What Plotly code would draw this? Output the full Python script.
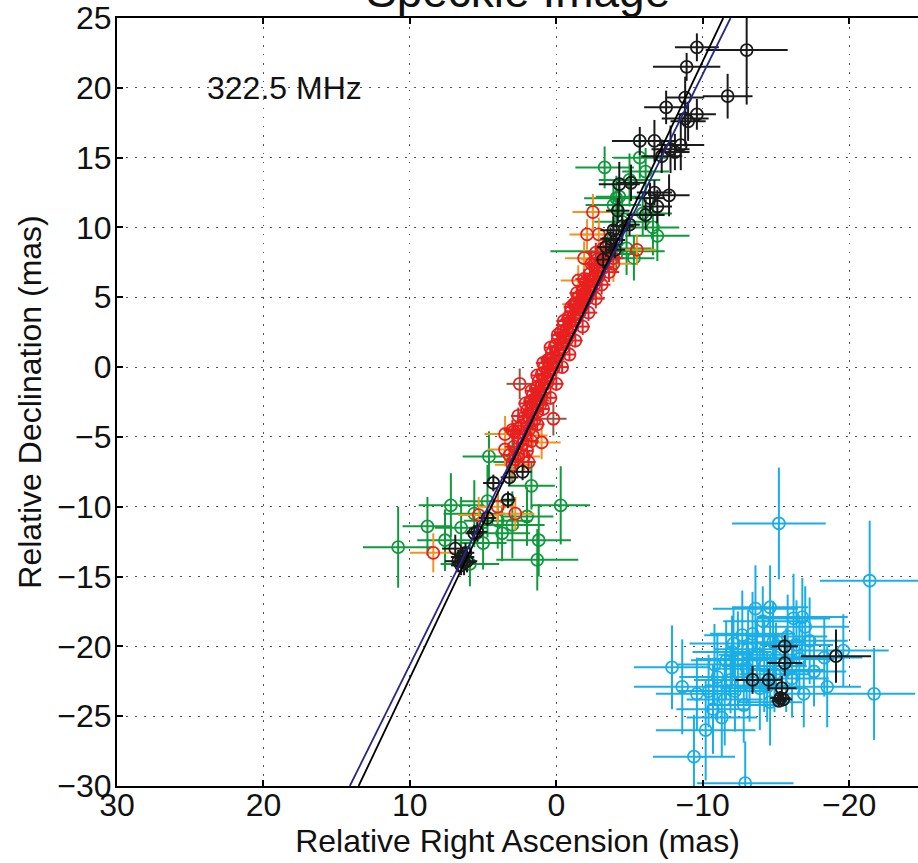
import plotly.graph_objects as go

# ---------------- data ----------------
# black series: along the jet + cluster in the south-east
black_x = [-9.6, -13.0, -8.9, -11.7, -8.8, -7.5, -9.6, -8.8, -9.0, -5.7, -6.7, -8.5, -7.8, -7.2, -8.1,
           -4.3, -5.1, -6.7, -7.7, -6.4, -6.9, -6.1, -4.2, -3.9, -4.5, -5.0, -3.7, -4.1, -3.4, -4.0, -3.2,
           2.3, 3.2, 4.3, 3.3, 4.7, 5.4, 5.6, 6.9, 6.4, 6.7, 6.1, 6.2, 6.5, 6.3,
           -15.6, -15.6, -13.4, -14.5, -15.4, -15.3, -15.5, -15.2, -19.1]
black_y = [22.9, 22.7, 21.5, 19.4, 19.3, 18.6, 18.1, 17.8, 17.6, 16.2, 16.2, 15.9, 15.6, 15.1, 15.4,
           13.1, 13.2, 12.5, 12.3, 12.1, 11.5, 10.9, 11.2, 9.8, 10.1, 10.2, 9.2, 9.1, 8.6, 8.4, 7.7,
           -7.5, -7.9, -8.3, -9.5, -10.8, -11.8, -11.9, -13.0, -13.6, -13.9, -13.9, -13.3, -14.2, -14.0,
           -20.0, -21.2, -22.4, -22.4, -23.0, -23.7, -23.8, -23.9, -20.7]
black_ex = [1.5, 2.8, 2.3, 1.7, 1.3, 1.5, 1.3, 1.6, 1.2, 1.9, 1.5, 1.6, 1.3, 1.4, 1.0,
            1.4, 1.0, 1.2, 1.4, 1.0, 1.0, 1.3, 0.8, 0.9, 0.8, 0.7, 0.7, 0.6, 0.6, 0.7, 0.5,
            0.6, 0.6, 0.7, 0.5, 0.6, 0.7, 0.6, 0.9, 0.8, 0.9, 0.7, 0.6, 0.7, 0.8,
            0.9, 1.2, 1.2, 0.9, 1.0, 0.7, 0.6, 0.5, 2.4]
black_ey = [1.0, 3.9, 1.0, 1.6, 1.5, 1.2, 1.1, 2.0, 1.4, 1.0, 1.5, 1.8, 1.7, 1.2, 1.3,
            1.6, 1.3, 0.9, 1.5, 1.1, 1.2, 1.1, 0.9, 1.0, 0.9, 0.8, 0.8, 0.7, 0.7, 0.6, 0.6,
            0.6, 0.6, 0.6, 0.6, 0.6, 0.7, 0.6, 1.0, 0.7, 0.8, 0.8, 0.7, 0.7, 0.9,
            0.8, 0.9, 1.0, 0.8, 0.9, 0.5, 0.5, 0.4, 1.9]

# cyan series: south-east cluster
cyan_x = [-15.2, -21.4, -14.6, -16.8, -16.2, -13.4, -12.1, -7.9, -8.6, -9.6, -10.7, -10.2, -9.4, -12.9,
          -18.5, -21.7, -19.6, -11.0, -11.6, -12.4, -13.0, -13.7, -14.2, -14.8, -15.8, -16.6, -17.3,
          -17.6, -16.1, -13.9, -12.2, -11.5, -10.4, -12.8, -14.6, -11.9, -13.2, -15.0, -12.7, -11.3,
          -16.9, -18.3, -10.8, -14.1, -13.6, -17.0, -14.9, -15.7, -13.1, -12.0, -16.4, -14.4]
cyan_y = [-11.2, -15.3, -17.2, -17.9, -18.0, -19.1, -19.8, -21.5, -22.9, -23.4, -24.5, -26.0, -27.9, -29.8,
          -22.9, -23.4, -20.3, -22.2, -21.0, -20.9, -21.6, -20.6, -21.4, -19.7, -19.3, -20.9, -19.6,
          -21.8, -22.3, -23.0, -23.2, -23.8, -23.2, -24.2, -24.0, -22.4, -22.8, -20.8, -19.2, -25.1,
          -23.4, -20.8, -21.3, -18.2, -17.3, -18.6, -22.0, -21.7, -20.2, -20.4, -19.9, -22.9]
cyan_ex = [3.2, 3.4, 2.6, 3.1, 2.5, 2.9, 3.0, 2.6, 3.3, 2.8, 2.5, 3.4, 2.8, 3.3,
           2.3, 2.8, 3.1, 2.6, 2.4, 2.8, 2.2, 2.6, 2.9, 2.2, 2.7, 2.4, 2.6,
           2.2, 2.5, 2.7, 2.3, 2.6, 2.1, 2.4, 2.2, 2.5, 2.8, 2.3, 2.6, 2.4,
           2.0, 2.6, 2.5, 2.7, 2.9, 3.0, 2.4, 2.6, 2.3, 2.7, 2.5, 2.2]
cyan_ey = [4.0, 4.3, 3.0, 2.8, 3.2, 3.0, 2.5, 3.0, 3.4, 2.6, 3.2, 3.6, 3.0, 3.0,
           2.9, 3.3, 2.6, 3.1, 2.8, 3.4, 2.6, 2.4, 3.3, 2.9, 3.0, 2.6, 3.1,
           2.5, 2.8, 3.0, 2.9, 3.3, 2.6, 2.7, 3.1, 2.4, 2.6, 2.5, 3.2, 2.8,
           2.4, 2.8, 2.9, 2.5, 3.1, 2.9, 2.7, 3.0, 2.8, 2.6, 3.2, 2.5]

# green series
green_x = [-5.7, -6.1, -4.1, -3.9, -4.3, -4.5, -4.8, -5.3, -3.5, -4.1, -5.9, -5.0, -3.3, -6.6, -6.9,
           10.8, 8.8, 7.2, 7.6, 4.6, 1.7, -0.3, 3.7, 3.0, 2.0, 1.2, 1.3, 5.6, 4.7, 4.0, 5.9,
           6.5, 5.0, 3.0]
green_y = [15.0, 14.0, 12.1, 11.6, 12.2, 10.4, 8.5, 7.8, 8.3, 8.1, 11.0, 13.4, 14.3, 10.0, 9.4,
           -12.9, -11.4, -9.9, -12.4, -6.4, -8.5, -9.9, -11.9, -11.3, -10.7, -12.4, -13.8, -10.5, -9.6, -11.0, -14.1,
           -11.5, -12.6, -6.8]
green_ex = [1.8, 1.6, 2.2, 1.9, 1.6, 1.9, 1.7, 1.4, 3.9, 1.5, 2.0, 2.1, 2.0, 1.8, 2.2,
            2.4, 1.7, 2.2, 1.9, 1.8, 1.6, 2.0, 1.9, 2.2, 1.8, 2.2, 2.8, 2.1, 1.9, 2.3, 2.0,
            1.8, 1.6, 1.3]
green_ey = [1.5, 1.7, 1.6, 1.8, 1.4, 1.7, 1.9, 1.6, 1.5, 1.3, 1.6, 1.9, 1.5, 2.0, 1.8,
            2.9, 2.1, 2.3, 2.2, 1.8, 1.7, 2.8, 2.0, 2.4, 2.1, 2.6, 2.2, 2.4, 2.6, 2.0, 1.6,
            2.2, 1.9, 1.5]

# orange-bar series (red circles)
orange_x = [-2.5, -2.1, -2.9, -1.9, -2.8, -1.5, -2.4, -5.5, -3.9, -2.0, -1.2,
            3.5, 3.5, 2.2, 1.0, 2.8, 5.3, 4.0, 8.4, 2.6, 1.6, 3.0]
orange_y = [11.1, 9.5, 9.5, 7.8, 7.7, 6.2, 6.2, 8.4, 7.4, 5.0, 4.5,
            -4.8, -5.9, -6.4, -5.4, -10.5, -10.6, -10.0, -13.3, -4.4, -4.9, -7.0]
orange_ex = [1.4, 1.2, 1.1, 1.3, 1.1, 1.2, 1.0, 1.3, 1.2, 1.0, 0.8,
             1.4, 1.2, 1.1, 1.3, 1.3, 1.4, 1.2, 1.6, 1.1, 1.0, 1.2]
orange_ey = [1.3, 1.1, 1.2, 1.2, 1.0, 1.1, 1.2, 1.1, 1.3, 1.0, 0.9,
             1.3, 1.2, 1.0, 1.2, 1.2, 1.3, 1.2, 1.4, 1.0, 1.1, 1.1]

# brown-bar series (red circles)
brown_x = [2.5, 0.2, 0.4, 1.3]
brown_y = [-1.2, -3.7, 0.6, -2.4]
brown_ex = [0.9, 0.9, 0.7, 0.8]
brown_ey = [1.1, 1.2, 0.9, 0.8]

# red series: dense band along the jet
red_x = [2.6, 2.0, 2.9, 2.3, 1.7, 2.6, 2.1, 2.9, 1.8, 2.4, 2.0, 1.5, 2.2, 1.7, 1.3, 2.0, 1.6, 1.1,
         1.8, 1.4, 1.0, 1.6, 1.2, 0.8, 1.4, 1.0, 0.6, 1.2, 0.8, 0.4, 1.0, 0.6, 0.2, 0.8, 0.4, 0.0,
         0.6, 0.2, -0.2, 0.3, -0.1, -0.5, 0.1, -0.3, -0.7, -0.1, -0.5, -0.9, -0.3, -0.7, -1.1, -0.5,
         -0.9, -1.3, -0.8, -1.2, -1.6, -1.0, -1.4, -1.8, -1.3, -1.7, -2.1, -1.5, -1.9, -2.3, -1.8,
         -2.2, -2.6, -2.0, -2.5, -2.9, -2.3, -2.8, -3.2, -2.6, -3.1, -3.5,
         3.0, 1.3, 2.6, 0.9, 2.1, 0.4, 1.7, 0.0, 1.3, -0.4, 0.9, -0.9, 0.4, -1.3, -0.1, -1.8,
         -0.5, -2.2, -1.0, -2.7, -1.4, -3.1, -1.9, -3.6, -2.4, -3.9, -3.2, -2.7, 2.8, 1.9, 3.2]
red_y = [-6.2, -6.0, -5.7, -5.5, -5.3, -5.1, -4.8, -4.6, -4.4, -4.2, -4.0, -3.8, -3.6, -3.4, -3.2, -3.1, -2.9, -2.7,
         -2.5, -2.3, -2.1, -2.0, -1.8, -1.6, -1.5, -1.3, -1.1, -1.0, -0.8, -0.6, -0.5, -0.3, -0.1, 0.0, 0.2, 0.4,
         0.5, 0.7, 0.9, 1.0, 1.2, 1.4, 1.5, 1.7, 1.9, 2.0, 2.2, 2.4, 2.5, 2.7, 2.9, 3.0,
         3.2, 3.4, 3.5, 3.7, 3.9, 4.0, 4.2, 4.4, 4.5, 4.7, 4.9, 5.0, 5.2, 5.4, 5.5,
         5.7, 5.9, 6.1, 6.3, 6.5, 6.7, 6.9, 7.1, 7.3, 7.6, 7.9,
         -4.5, -4.1, -3.5, -3.0, -2.6, -2.2, -1.7, -1.2, -0.6, 0.0, 0.3, 0.9, 1.4, 1.9, 2.3, 2.9,
         3.3, 3.9, 4.3, 4.9, 5.3, 5.9, 6.3, 6.8, 7.4, 7.8, 8.5, 8.2, -6.6, -6.8, -6.3]
red_ex = [0.5, 0.4, 0.6, 0.4, 0.5, 0.4, 0.5, 0.6, 0.4, 0.5, 0.4, 0.5, 0.4, 0.5, 0.4, 0.3, 0.4, 0.5,
          0.4, 0.3, 0.4, 0.3, 0.4, 0.3, 0.4, 0.3, 0.4, 0.3, 0.3, 0.4, 0.3, 0.3, 0.4, 0.3, 0.3, 0.4,
          0.3, 0.3, 0.4, 0.3, 0.3, 0.4, 0.3, 0.4, 0.3, 0.3, 0.4, 0.3, 0.4, 0.3, 0.4, 0.3,
          0.4, 0.5, 0.4, 0.4, 0.5, 0.4, 0.5, 0.4, 0.5, 0.4, 0.5, 0.4, 0.5, 0.6, 0.4,
          0.5, 0.6, 0.5, 0.6, 0.5, 0.6, 0.5, 0.6, 0.5, 0.6, 0.7,
          0.6, 0.5, 0.5, 0.4, 0.5, 0.4, 0.4, 0.5, 0.4, 0.4, 0.5, 0.4, 0.4, 0.5, 0.4, 0.5,
          0.5, 0.6, 0.5, 0.6, 0.5, 0.6, 0.6, 0.7, 0.6, 0.7, 0.6, 0.6, 0.6, 0.5, 0.6]
red_ey = [0.6, 0.5, 0.6, 0.5, 0.5, 0.6, 0.5, 0.6, 0.5, 0.5, 0.4, 0.5, 0.4, 0.5, 0.4, 0.4, 0.5, 0.4,
          0.4, 0.4, 0.5, 0.4, 0.4, 0.3, 0.4, 0.3, 0.4, 0.3, 0.4, 0.3, 0.4, 0.3, 0.3, 0.4, 0.3, 0.4,
          0.3, 0.4, 0.3, 0.4, 0.3, 0.4, 0.4, 0.3, 0.4, 0.4, 0.5, 0.4, 0.4, 0.5, 0.4, 0.5,
          0.5, 0.4, 0.5, 0.5, 0.6, 0.5, 0.5, 0.6, 0.5, 0.6, 0.5, 0.6, 0.6, 0.5, 0.6,
          0.6, 0.7, 0.6, 0.6, 0.7, 0.6, 0.7, 0.7, 0.6, 0.7, 0.8,
          0.7, 0.6, 0.6, 0.5, 0.5, 0.5, 0.4, 0.5, 0.4, 0.4, 0.5, 0.4, 0.5, 0.5, 0.5, 0.6,
          0.6, 0.6, 0.6, 0.7, 0.6, 0.7, 0.7, 0.7, 0.8, 0.7, 0.8, 0.7, 0.7, 0.6, 0.7]

# fitted jet lines (end points)
fit_black_x = [13.5, -11.4]
fit_black_y = [-30, 25]
fit_blue_x = [14.1, -11.9]
fit_blue_y = [-30, 25]

x_ticks = [30, 20, 10, 0, -10, -20]
y_ticks = [25, 20, 15, 10, 5, 0, -5, -10, -15, -20, -25, -30]
x_range = [30, -24.7]
y_range = [-30, 25]

title_text = "Speckle Image"
freq_label = "322.5 MHz"
freq_pos = (24.0, 20.0)

# ---------------- styling ----------------
FONT = "Liberation Sans, Arial, Helvetica, sans-serif"
FS = 32
C_BLACK = "#1a1a1a"
C_CYAN = "#1aaee6"
C_GREEN = "#0f9a3c"
C_ORANGE = "#f5921e"
C_RED = "#e8201f"
C_BROWN = "#8e5a45"
C_BLUE = "#26268c"


def err_trace(x, y, ex, ey, mcolor, ecolor, size=12, lw=1.8):
    return go.Scatter(
        x=x, y=y, mode="markers",
        marker=dict(symbol="circle-open", size=size, color=mcolor, line=dict(width=lw, color=mcolor)),
        error_x=dict(type="data", array=ex, symmetric=True, width=0, thickness=2, color=ecolor),
        error_y=dict(type="data", array=ey, symmetric=True, width=0, thickness=2, color=ecolor),
        showlegend=False, hoverinfo="skip", cliponaxis=True,
    )


fig = go.Figure()
fig.add_trace(err_trace(cyan_x, cyan_y, cyan_ex, cyan_ey, C_CYAN, C_CYAN))
fig.add_trace(err_trace(green_x, green_y, green_ex, green_ey, C_GREEN, C_GREEN))
fig.add_trace(err_trace(orange_x, orange_y, orange_ex, orange_ey, C_RED, C_ORANGE))
fig.add_trace(err_trace(brown_x, brown_y, brown_ex, brown_ey, C_RED, C_BROWN))
fig.add_trace(err_trace(red_x, red_y, red_ex, red_ey, C_RED, C_RED))
fig.add_trace(err_trace(black_x, black_y, black_ex, black_ey, C_BLACK, C_BLACK))
fig.add_trace(go.Scatter(x=fit_blue_x, y=fit_blue_y, mode="lines",
                         line=dict(color=C_BLUE, width=1.8), showlegend=False, hoverinfo="skip"))
fig.add_trace(go.Scatter(x=fit_black_x, y=fit_black_y, mode="lines",
                         line=dict(color="#000000", width=1.8), showlegend=False, hoverinfo="skip"))

grid = dict(showgrid=True, gridcolor="#555555", gridwidth=1.3, griddash="1.5px,7.5px")

fig.update_xaxes(
    range=x_range, tickmode="array", tickvals=x_ticks, ticktext=[str(v).replace("-", "\u2212") for v in x_ticks],
    ticks="inside", ticklen=6, tickwidth=1.5, tickcolor="black", ticklabelstandoff=-10,
    showline=True, linecolor="black", linewidth=2, mirror="ticks",
    zeroline=False, tickfont=dict(family=FONT, size=FS, color="#111"),
    title=dict(text="Relative Right Ascension (mas)", font=dict(family=FONT, size=FS, color="#111"), standoff=2),
    **grid,
)
fig.update_yaxes(
    range=y_range, tickmode="array", tickvals=y_ticks, ticktext=[str(v).replace("-", "\u2212") for v in y_ticks],
    ticks="inside", ticklen=6, tickwidth=1.5, tickcolor="black", ticklabelstandoff=-3,
    showline=True, linecolor="black", linewidth=2, mirror=False,
    zeroline=False, tickfont=dict(family=FONT, size=FS, color="#111"),
    title=dict(text="Relative Declination (mas)", font=dict(family=FONT, size=FS, color="#111"), standoff=6),
    **grid,
)

fig.add_annotation(x=freq_pos[0], y=freq_pos[1], xref="x", yref="y", text=freq_label,
                   showarrow=False, xanchor="left", yanchor="middle",
                   font=dict(family=FONT, size=FS, color="#111"), bgcolor="rgba(255,255,255,0)")
fig.add_annotation(x=0.5, y=1, xref="paper", yref="paper", text=title_text, showarrow=False,
                   xanchor="center", yanchor="middle", yshift=27,
                   font=dict(family=FONT, size=46, color="#111"))

fig.update_layout(
    width=918, height=863,
    margin=dict(l=117, r=0, t=18, b=77),
    paper_bgcolor="white", plot_bgcolor="white",
)

fig.write_html("out.html")
